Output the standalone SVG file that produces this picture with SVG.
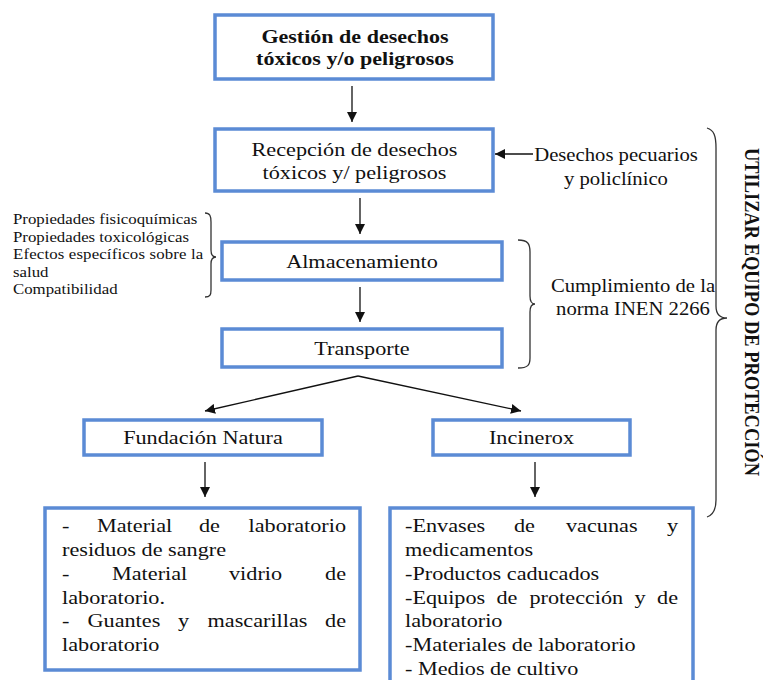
<svg xmlns="http://www.w3.org/2000/svg" width="763" height="680" viewBox="0 0 763 680">
<style>
  .box { fill: #ffffff; stroke: #5b8bd5; stroke-width: 3.5; }
  .t { font-family: "Liberation Serif", "Times New Roman", serif; font-size: 19px; fill: #111111; }
  .tb { font-family: "Liberation Serif", "Times New Roman", serif; font-size: 19px; font-weight: bold; fill: #111111; }
  .ts { font-family: "Liberation Serif", "Times New Roman", serif; font-size: 14.5px; fill: #111111; }
  .tm { font-family: "Liberation Serif", "Times New Roman", serif; font-size: 18px; fill: #111111; }
  .tv { font-family: "Liberation Serif", "Times New Roman", serif; font-size: 18px; font-weight: bold; fill: #111111; }
  .c { text-anchor: middle; }
  .e { text-anchor: end; }
  .conn { stroke: #111111; stroke-width: 1.3; fill: none; marker-end: url(#arrow); }
  .brace { stroke: #333333; stroke-width: 1.3; fill: none; }
</style>
<defs>
  <marker id="arrow" markerUnits="userSpaceOnUse" markerWidth="10" markerHeight="10" refX="10" refY="5" orient="auto">
    <path d="M0,0 L10,5 L0,10 z" fill="#111111"/>
  </marker>
</defs>

<g id="gestion">
  <rect class="box" x="215" y="15" width="278" height="64"/>
  <text class="tb c" transform="translate(355,43) scale(1.16,1)">Gestión de desechos</text>
  <text class="tb c" transform="translate(355,65) scale(1.16,1)">tóxicos y/o peligrosos</text>
</g>

<g id="recepcion">
  <rect class="box" x="215" y="129" width="278" height="62"/>
  <text class="t c" transform="translate(354.5,156) scale(1.17,1)">Recepción de desechos</text>
  <text class="t c" transform="translate(354.5,179) scale(1.17,1)">tóxicos y/ peligrosos</text>
</g>

<g id="desechos-pecuarios">
  <text class="tm c" transform="translate(616,161) scale(1.15,1)">Desechos pecuarios</text>
  <text class="tm c" transform="translate(616,185) scale(1.15,1)">y policlínico</text>
</g>

<g id="propiedades">
  <text class="ts" transform="translate(13,224) scale(1.16,1)">Propiedades fisicoquímicas</text>
  <text class="ts" transform="translate(13,241.5) scale(1.16,1)">Propiedades toxicológicas</text>
  <text class="ts" transform="translate(13,259) scale(1.16,1)" textLength="164" lengthAdjust="spacing">Efectos específicos sobre la</text>
  <text class="ts" transform="translate(13,276.5) scale(1.16,1)">salud</text>
  <text class="ts" transform="translate(13,294) scale(1.16,1)">Compatibilidad</text>
  <path class="brace" d="M205,213 C210,213 211,216 211,222 L211,250 C211,255 213,257 216,257 C213,257 211,259 211,264 L211,290 C211,295 210,297 205,297"/>
</g>

<g id="almacenamiento">
  <rect class="box" x="222" y="242" width="280" height="38"/>
  <text class="t c" transform="translate(362,267.5) scale(1.17,1)">Almacenamiento</text>
</g>

<g id="transporte">
  <rect class="box" x="222" y="329" width="280" height="38"/>
  <text class="t c" transform="translate(362,354.5) scale(1.17,1)">Transporte</text>
</g>

<g id="cumplimiento">
  <path class="brace" d="M518,240 C528,240 530,244 530,252 L530,296 C530,301 532,304 535,304 C532,304 530,307 530,312 L530,358 C530,365 528,368 518,368"/>
  <text class="tm c" transform="translate(633,292) scale(1.15,1)">Cumplimiento de la</text>
  <text class="tm c" transform="translate(633,315) scale(1.15,1)">norma INEN 2266</text>
</g>

<g id="utilizar-equipo">
  <path class="brace" d="M707,128 C714,130 716,136 716,148 L716,306 C716,314 720,318 727,318 C720,318 716,322 716,330 L716,500 C716,510 713,515 707,517"/>
  <text class="tv" transform="translate(745,148) scale(1.15,1) rotate(90)" textLength="328" lengthAdjust="spacingAndGlyphs">UTILIZAR EQUIPO DE PROTECCIÓN</text>
</g>

<g id="fundacion-natura">
  <rect class="box" x="84" y="420" width="238" height="35"/>
  <text class="t c" transform="translate(203,444) scale(1.17,1)">Fundación Natura</text>
</g>

<g id="incinerox">
  <rect class="box" x="433" y="420" width="197" height="35"/>
  <text class="t c" transform="translate(531.5,444) scale(1.17,1)">Incinerox</text>
</g>

<g id="lista-natura">
  <rect class="box" x="45" y="508" width="315" height="162"/>
  <text class="t" transform="translate(62,532) scale(1.17,1)">-</text>
  <text class="t" transform="translate(97,532) scale(1.17,1)">Material</text>
  <text class="t" transform="translate(199,532) scale(1.17,1)">de</text>
  <text class="t e" transform="translate(346,532) scale(1.17,1)">laboratorio</text>
  <text class="t" transform="translate(62,556) scale(1.17,1)">residuos de sangre</text>
  <text class="t" transform="translate(62,580) scale(1.17,1)">-</text>
  <text class="t" transform="translate(112,580) scale(1.17,1)">Material</text>
  <text class="t" transform="translate(229,580) scale(1.17,1)">vidrio</text>
  <text class="t e" transform="translate(346,580) scale(1.17,1)">de</text>
  <text class="t" transform="translate(62,603.5) scale(1.17,1)">laboratorio.</text>
  <text class="t" transform="translate(62,627) scale(1.17,1)">-</text>
  <text class="t" transform="translate(87.5,627) scale(1.17,1)">Guantes</text>
  <text class="t" transform="translate(178,627) scale(1.17,1)">y</text>
  <text class="t" transform="translate(207.5,627) scale(1.17,1)">mascarillas</text>
  <text class="t e" transform="translate(346,627) scale(1.17,1)">de</text>
  <text class="t" transform="translate(62,651) scale(1.17,1)">laboratorio</text>
</g>

<g id="lista-incinerox">
  <rect class="box" x="390" y="508" width="303" height="190"/>
  <text class="t" transform="translate(405,532) scale(1.17,1)">-Envases</text>
  <text class="t" transform="translate(514,532) scale(1.17,1)">de</text>
  <text class="t" transform="translate(566,532) scale(1.17,1)">vacunas</text>
  <text class="t e" transform="translate(678,532) scale(1.17,1)">y</text>
  <text class="t" transform="translate(405,556) scale(1.17,1)">medicamentos</text>
  <text class="t" transform="translate(405,580) scale(1.17,1)">-Productos caducados</text>
  <text class="t" transform="translate(405,603.5) scale(1.17,1)">-Equipos</text>
  <text class="t" transform="translate(496.5,603.5) scale(1.17,1)">de</text>
  <text class="t" transform="translate(529.5,603.5) scale(1.17,1)">protección</text>
  <text class="t" transform="translate(634.5,603.5) scale(1.17,1)">y</text>
  <text class="t e" transform="translate(678,603.5) scale(1.17,1)">de</text>
  <text class="t" transform="translate(405,627) scale(1.17,1)">laboratorio</text>
  <text class="t" transform="translate(405,651) scale(1.17,1)">-Materiales de laboratorio</text>
  <text class="t" transform="translate(405,675) scale(1.17,1)">- Medios de cultivo</text>
</g>

<g id="connectors">
  <path class="conn" d="M352,86 L352,122"/>
  <path class="conn" d="M533,154 L495,154"/>
  <path class="conn" d="M360,198 L360,234"/>
  <path class="conn" d="M360,287 L360,322"/>
  <path class="conn" d="M358,376 L205,411"/>
  <path class="conn" d="M358,376 L521,411"/>
  <path class="conn" d="M205,462 L205,497"/>
  <path class="conn" d="M535,462 L535,497"/>
</g>
</svg>
